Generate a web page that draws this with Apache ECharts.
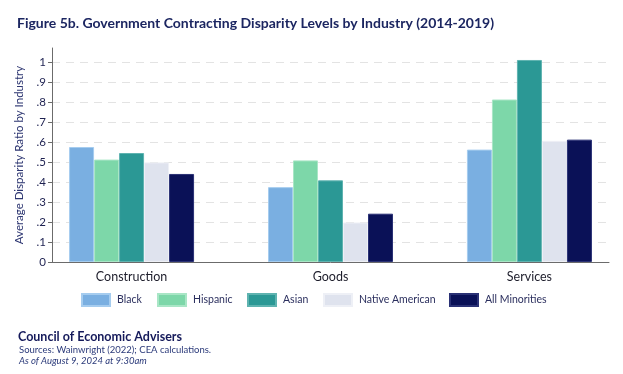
<!DOCTYPE html>
<html>
<head>
<meta charset="utf-8">
<script src="https://cdn.jsdelivr.net/npm/echarts@6/dist/echarts.min.js"></script>
<style>
html,body{margin:0;padding:0;background:#fff;}
#main{width:623px;height:374px;}
</style>
</head>
<body>
<div id="main"></div>
<script>
var categories = ['Construction', 'Goods', 'Services'];
var seriesNames = ['Black', 'Hispanic', 'Asian', 'Native American', 'All Minorities'];
var black = [0.576, 0.375, 0.563];
var hispanic = [0.513, 0.509, 0.814];
var asian = [0.546, 0.409, 1.012];
var nativeAmerican = [0.499, 0.198, 0.607];
var allMinorities = [0.441, 0.242, 0.613];
var yTicks = [0, 0.1, 0.2, 0.3, 0.4, 0.5, 0.6, 0.7, 0.8, 0.9, 1];
var yTickLabels = ['0', '.1', '.2', '.3', '.4', '.5', '.6', '.7', '.8', '.9', '1'];

var colors = ['#7aafe1', '#7dd7a9', '#2b9895', '#dfe3ee', '#0a1157'];
var borders = ['#a5ccef', '#a9e6c6', '#5fb3b0', '#eef0f6', '#2a3175'];
var allValues = [black, hispanic, asian, nativeAmerican, allMinorities];
var FONT = 'Lato, sans-serif';

var chart = echarts.init(document.getElementById('main'), null, {renderer: 'canvas'});

var series = seriesNames.map(function (name, si) {
  return {
    name: name,
    type: 'bar',
    barWidth: 25,
    barGap: '0%',
    itemStyle: {color: colors[si], borderColor: borders[si], borderWidth: 1},
    emphasis: {disabled: true},
    data: categories.map(function (c, ci) { return [ci + 1, allValues[si][ci]]; })
  };
});

var legends = seriesNames.map(function (name, si) {
  var lefts = [81, 157, 247, 323, 449];
  return {
    data: [name],
    left: lefts[si],
    top: 293,
    itemWidth: 28,
    itemHeight: 12,
    itemGap: 0,
    selectedMode: false,
    textStyle: {color: '#2b2f5e', fontSize: 10.5, fontFamily: FONT, padding: [0, 0, 0, 2]},
    icon: 'rect',
    padding: 0
  };
});

chart.setOption({
  animation: false,
  backgroundColor: '#ffffff',
  color: colors,
  title: [{
    text: 'Figure 5b. Government Contracting Disparity Levels by Industry (2014-2019)',
    left: 12, top: 11,
    textStyle: {color: '#1c2661', fontSize: 14, fontWeight: 'bold', fontFamily: FONT}
  }, {
    text: 'Council of Economic Advisers',
    left: 13, top: 325,
    textStyle: {color: '#14195a', fontSize: 12.5, fontWeight: 'bold', fontFamily: FONT}
  }, {
    text: 'Sources: Wainwright (2022); CEA calculations.',
    left: 14, top: 340,
    textStyle: {color: '#2b3a7a', fontSize: 9.5, fontWeight: 'normal', fontFamily: FONT}
  }, {
    text: 'As of August 9, 2024 at 9:30am',
    left: 14, top: 351,
    textStyle: {color: '#2b3a7a', fontSize: 9.5, fontWeight: 'normal', fontStyle: 'italic', fontFamily: FONT}
  }],
  legend: legends,
  grid: {left: 52, right: 14, top: 48, bottom: 112, containLabel: false},
  xAxis: {
    type: 'value',
    min: 0.6,
    max: 3.4,
    axisLine: {show: true, onZero: false, lineStyle: {color: '#6b6b6b', width: 1}},
    axisTick: {show: false},
    splitLine: {show: false},
    axisLabel: {
      customValues: [1, 2, 3],
      color: '#1d1d2b',
      fontSize: 12.5,
      fontFamily: FONT,
      margin: 8,
      formatter: function (v) { return categories[Math.round(v) - 1] || ''; }
    }
  },
  yAxis: {
    type: 'value',
    min: 0,
    max: 1.072,
    name: 'Average Disparity Ratio by Industry',
    nameLocation: 'middle',
    nameGap: 25,
    nameTextStyle: {color: '#2b3470', fontSize: 11.5, fontFamily: FONT},
    axisLine: {show: true, lineStyle: {color: '#6b6b6b', width: 1}},
    axisTick: {show: true, length: 4, customValues: yTicks, lineStyle: {color: '#6b6b6b'}},
    axisLabel: {
      customValues: yTicks,
      color: '#1d2050',
      fontSize: 11.5,
      fontFamily: FONT,
      margin: 6,
      formatter: function (v) {
        var i = yTicks.findIndex(function (t) { return Math.abs(t - v) < 1e-6; });
        return i >= 0 ? yTickLabels[i] : '';
      }
    },
    splitLine: {show: true, lineStyle: {color: '#e3e3e3', type: [8, 6], width: 1}}
  },
  series: series
});
</script>
</body>
</html>
